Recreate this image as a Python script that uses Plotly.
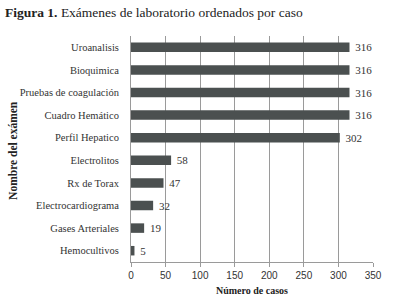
import plotly.graph_objects as go

categories = ["Uroanalisis", "Bioquimica", "Pruebas de coagulación", "Cuadro Hemático",
              "Perfil Hepatico", "Electrolitos", "Rx de Torax", "Electrocardiograma",
              "Gases Arteriales", "Hemocultivos"]
values = [316, 316, 316, 316, 302, 58, 47, 32, 19, 5]
x_ticks = [0, 50, 100, 150, 200, 250, 300, 350]

fig = go.Figure()
fig.add_trace(go.Bar(
    y=categories, x=values, orientation="h",
    marker=dict(color="#4b5050", line=dict(width=0)),
    width=0.42,
    text=["\u00a0" + str(v) for v in values], textposition="outside",
    constraintext="none",
    textfont=dict(family="Liberation Serif", size=11, color="#333333"),
    cliponaxis=False,
))
fig.update_layout(
    width=393, height=307,
    margin=dict(l=131, r=20, t=36, b=45, autoexpand=False),
    paper_bgcolor="white", plot_bgcolor="white",
    showlegend=False,
    annotations=[
        dict(text="<b>Figura 1.</b> Exámenes de laboratorio ordenados por caso",
             xref="paper", yref="paper", x=-0.528, y=1.1018,
             xanchor="left", yanchor="middle", showarrow=False,
             font=dict(family="Liberation Serif", size=13.5, color="#222222")),
        dict(text="<b>Nombre del exámen</b>", textangle=-90,
             xref="paper", yref="paper", x=-0.488, y=0.4956,
             xanchor="center", yanchor="middle", showarrow=False,
             font=dict(family="Liberation Serif", size=11.5, color="#222222")),
    ],
)
fig.update_xaxes(range=[0, 350], tickvals=x_ticks, showgrid=True, gridcolor="#9a9a9a",
                 gridwidth=1, showline=True, linecolor="#9a9a9a", ticks="outside",
                 ticklen=4, tickcolor="#9a9a9a", zeroline=False, automargin=False,
                 tickfont=dict(family="Liberation Sans", size=10, color="#333333"),
                 title=dict(text="<b>Número de casos</b>", standoff=6,
                            font=dict(family="Liberation Serif", size=10, color="#222222")))
fig.update_yaxes(categoryorder="array", categoryarray=categories[::-1],
                 showline=True, linecolor="#9a9a9a", ticks="", ticklabelstandoff=9,
                 automargin=False,
                 tickfont=dict(family="Liberation Serif", size=10.5, color="#333333"))
fig.write_html("out.html", config={"displayModeBar": False},
               post_script="document.body.style.margin='0';")
